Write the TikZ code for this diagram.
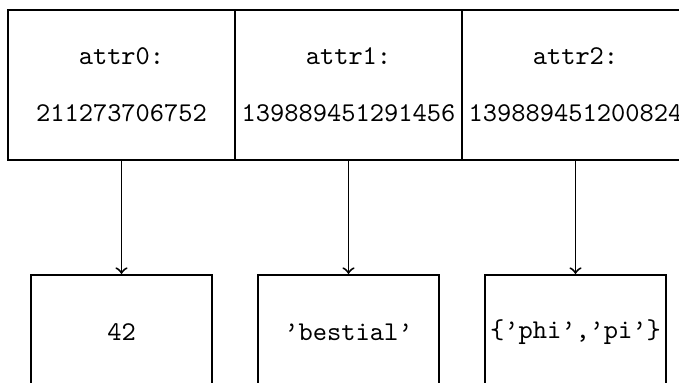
\documentclass[tikz,border=0pt]{standalone}
\usepackage{tikz}
\usetikzlibrary{arrows}
\usepackage{amsmath}

\begin{document}
\begin{tikzpicture}[x=0.01296cm,y=-0.01296cm,line width=0.7pt,
    attrbox/.style={draw,rectangle,inner sep=0pt,align=center,font=\ttfamily,
      minimum width=2.94cm,minimum height=1.94cm},
    valbox/.style={draw,rectangle,inner sep=0pt,font=\ttfamily,
      minimum width=2.35cm,minimum height=1.48cm}]
      \useasboundingbox (0,0) rectangle (679,383);
      \node[attrbox](attr0) at (121.5,85){attr0:\\[9pt]211273706752};
      \node[attrbox](attr1) at (348.5,85){attr1:\\[9pt]139889451291456};
      \node[attrbox](attr2) at (575.5,85){attr2:\\[9pt]139889451200824};
      \node[valbox](val0) at (121.5,332){42};
      \node[valbox](val1) at (348.5,332){’bestial’};
      \node[valbox](val2) at (575.5,332){\{’phi’,’pi’\}};
      \draw[->] (attr0) -- (val0);
      \draw[->] (attr1) -- (val1);
      \draw[->] (attr2) -- (val2);
    \end{tikzpicture}
\end{document}
